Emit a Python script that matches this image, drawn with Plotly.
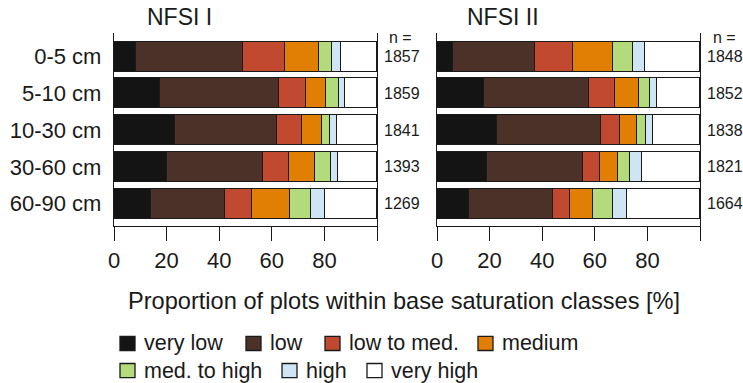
import plotly.graph_objects as go

# Depth layers and saturation classes
depths = ["0-5 cm", "5-10 cm", "10-30 cm", "30-60 cm", "60-90 cm"]
classes = ["very low", "low", "low to med.", "medium", "med. to high", "high", "very high"]
class_colors = ["#141414", "#4b3128", "#c0492f", "#e17f05", "#b3da7b", "#cfe5f4", "#ffffff"]

# Share of plots per class [%] for each depth (rows follow `depths`)
nfsi1_very_low = [8.3, 17.5, 23.2, 20.0, 14.1]
nfsi1_low = [40.6, 45.1, 38.7, 36.8, 28.1]
nfsi1_low_to_med = [16.1, 10.3, 9.5, 9.7, 10.4]
nfsi1_medium = [13.1, 7.7, 7.6, 9.9, 14.3]
nfsi1_med_to_high = [4.9, 4.8, 3.1, 6.1, 7.9]
nfsi1_high = [3.4, 2.5, 2.8, 2.5, 5.3]
nfsi1_very_high = [13.6, 12.1, 15.1, 15.0, 19.9]
nfsi1_n = [1857, 1859, 1841, 1393, 1269]

nfsi2_very_low = [6.0, 17.9, 22.9, 18.9, 12.3]
nfsi2_low = [31.3, 40.0, 39.5, 36.7, 31.7]
nfsi2_low_to_med = [14.4, 9.8, 7.3, 6.4, 6.6]
nfsi2_medium = [15.1, 9.1, 6.2, 6.7, 8.6]
nfsi2_med_to_high = [7.6, 4.2, 3.6, 4.7, 7.8]
nfsi2_high = [4.7, 2.5, 2.5, 4.4, 5.4]
nfsi2_very_high = [20.9, 16.5, 18.0, 22.2, 27.6]
nfsi2_n = [1848, 1852, 1838, 1821, 1664]

x_ticks = [0, 20, 40, 60, 80, 100]
x_tick_text = ["0", "20", "40", "60", "80", ""]

nfsi1 = [nfsi1_very_low, nfsi1_low, nfsi1_low_to_med, nfsi1_medium,
         nfsi1_med_to_high, nfsi1_high, nfsi1_very_high]
nfsi2 = [nfsi2_very_low, nfsi2_low, nfsi2_low_to_med, nfsi2_medium,
         nfsi2_med_to_high, nfsi2_high, nfsi2_very_high]

W, H = 743, 383
TOP, BOTTOM = 33.0, 225.7
FONT = "Liberation Sans, Arial, sans-serif"
INK = "#1a1a1a"


def px(xp):
    return xp / W


def py(yp):
    return (BOTTOM - yp) / (BOTTOM - TOP)


rows = list(range(len(depths)))
fig = go.Figure()
for series, xa, ya in [(nfsi1, "x", "y"), (nfsi2, "x2", "y2")]:
    for name, color, vals in zip(classes, class_colors, series):
        fig.add_trace(go.Bar(
            x=vals, y=rows, orientation="h", name=name,
            marker=dict(color=color, line=dict(color=INK, width=1.5)),
            width=0.818, xaxis=xa, yaxis=ya, showlegend=False,
            hoverinfo="x+name",
        ))

xaxis_style = dict(
    range=[0, 100], tickvals=x_ticks, ticktext=x_tick_text,
    ticks="outside", ticklen=14, tickwidth=1.3, tickcolor=INK,
    showline=True, linecolor=INK, linewidth=1.3,
    showgrid=False, zeroline=False, fixedrange=True, automargin=False,
    tickfont=dict(size=22, color=INK, family=FONT),
)
yaxis_style = dict(
    range=[4.61, -0.646], tickvals=rows, ticktext=depths,
    ticks="", showline=True, mirror=True, linecolor=INK, linewidth=1.3,
    showgrid=False, zeroline=False, fixedrange=True, automargin=False,
    tickfont=dict(size=22, color=INK, family=FONT),
    ticklabelstandoff=7,
)

fig.update_layout(
    width=W, height=H,
    margin=dict(l=0, r=0, t=TOP, b=H - BOTTOM, pad=0, autoexpand=False),
    paper_bgcolor="white", plot_bgcolor="white",
    barmode="stack", bargap=0,
    font=dict(family=FONT, color=INK),
    xaxis=dict(domain=[114 / W, 377 / W], anchor="y", **xaxis_style),
    yaxis=dict(domain=[0, 1], anchor="x", **yaxis_style),
    xaxis2=dict(domain=[437 / W, 700 / W], anchor="y2", **xaxis_style),
    yaxis2=dict(domain=[0, 1], anchor="x2", **{**yaxis_style, "showticklabels": False}),
)

ann = []
# Panel titles
ann.append(dict(text="NFSI I", x=px(145), y=py(17), xref="paper", yref="paper",
                xanchor="left", yanchor="middle", showarrow=False,
                font=dict(size=23, color=INK, family=FONT)))
ann.append(dict(text="NFSI II", x=px(465), y=py(17), xref="paper", yref="paper",
                xanchor="left", yanchor="middle", showarrow=False,
                font=dict(size=23, color=INK, family=FONT)))

# Sample sizes to the right of each panel
for ns, xa, ya, nx in [(nfsi1_n, "x", "y", 387), (nfsi2_n, "x2", "y2", 711)]:
    ann.append(dict(text="n =", x=px(nx), y=py(37), xref="paper", yref="paper",
                    xanchor="left", yanchor="middle", showarrow=False,
                    font=dict(size=16, color=INK, family=FONT)))
    for r, n in zip(rows, ns):
        ann.append(dict(text=str(n), x=1, y=r, xref=f"{xa} domain", yref=ya,
                        xanchor="left", yanchor="middle", xshift=5, showarrow=False,
                        font=dict(size=16, color=INK, family=FONT)))

# Shared axis title
ann.append(dict(text="Proportion of plots within base saturation classes [%]",
                x=px(404), y=py(301), xref="paper", yref="paper",
                xanchor="center", yanchor="middle", showarrow=False,
                font=dict(size=23.6, color=INK, family=FONT)))

# Legend: swatch + label, two rows
legend_pos = [(120, 343), (246, 343), (325, 343), (478, 343),
              (120, 370), (282, 370), (367, 370)]
shapes = []
for name, color, (lx, ly) in zip(classes, class_colors, legend_pos):
    shapes.append(dict(type="rect", xref="paper", yref="paper",
                       x0=px(lx), x1=px(lx + 15), y0=py(ly - 7), y1=py(ly + 7),
                       fillcolor=color, line=dict(color=INK, width=1.3)))
    ann.append(dict(text=name, x=px(lx + 22), y=py(ly), xref="paper", yref="paper",
                    xanchor="left", yanchor="middle", showarrow=False,
                    font=dict(size=21.5, color=INK, family=FONT)))

fig.update_layout(annotations=ann, shapes=shapes)
fig.write_html("out.html")
